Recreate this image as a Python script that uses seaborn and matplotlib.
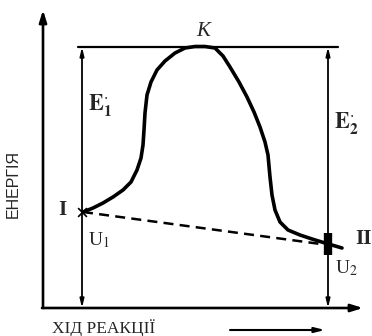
import matplotlib
matplotlib.use("Agg")
import matplotlib.pyplot as plt
import seaborn as sns
import pandas as pd

# ---- data (progress along reaction, energy) ----
curve_progress = [40, 50, 60, 70, 80, 88, 94, 98, 100, 101, 102, 104, 108, 114, 122, 132, 142,
                  152, 162, 172, 180, 187, 196, 204, 211, 217, 222, 225, 227, 229, 232, 237, 245,
                  257, 269, 282, 299]
curve_energy = [96, 100, 105, 111, 118, 126, 138, 150, 163, 178, 195, 213, 226, 238, 247, 255, 260,
                261.5, 261.5, 260, 252, 241, 226, 211, 196, 181, 166, 153, 131, 113, 98, 86, 78,
                73, 69, 65, 60]
direct_progress = [40, 285]
direct_energy = [96, 63]
state_progress = [39, 285]          # I and II
peak_energy = 261
top_line_progress = [35, 295]
labels_state = ["I", "II"]
labels_U = ["U$_1$", "U$_2$"]

sns.set_style("white")
plt.rcParams["mathtext.fontset"] = "stix"

fig = plt.figure(figsize=(3.72, 3.36), dpi=100)
ax = fig.add_axes([0, 0, 1, 1])
ax.set_xlim(-43, 329)
ax.set_ylim(-28, 308)
ax.axis("off")

df_curve = pd.DataFrame({"p": curve_progress, "e": curve_energy})
sns.lineplot(data=df_curve, x="p", y="e", sort=False, color="black", lw=2.6, ax=ax,
             solid_capstyle="round")
df_direct = pd.DataFrame({"p": direct_progress, "e": direct_energy})
sns.lineplot(data=df_direct, x="p", y="e", sort=False, color="black", lw=1.8, ax=ax,
             linestyle=(0, (4, 2.5)))

# top horizontal line at activated complex level
ax.plot(top_line_progress, [peak_energy, peak_energy], color="black", lw=1.6)

# axes with arrows
ax.annotate("", xy=(0, 298), xytext=(0, 0),
            arrowprops=dict(arrowstyle="-|>,head_length=0.7,head_width=0.22", color="black", lw=1.9,
                            shrinkA=0, shrinkB=0))
ax.annotate("", xy=(320, 0), xytext=(-1, 0),
            arrowprops=dict(arrowstyle="-|>,head_length=0.7,head_width=0.22", color="black", lw=1.9,
                            shrinkA=0, shrinkB=0))
# vertical double arrows (activation energies)
for xp in state_progress:
    ax.annotate("", xy=(xp, peak_energy), xytext=(xp, 0),
                arrowprops=dict(arrowstyle="<|-|>,head_length=0.5,head_width=0.12", color="black",
                                lw=1.3, shrinkA=0, shrinkB=0))

# markers at states
ax.plot([285, 285], [53, 75], color="black", lw=6, solid_capstyle="butt")
ax.scatter([39], [96], marker="x", s=40, color="black", lw=1.2, zorder=5)

# bottom arrow under x-label
ax.annotate("", xy=(282, -22), xytext=(187, -22),
            arrowprops=dict(arrowstyle="-|>,head_length=0.6,head_width=0.15", color="black", lw=1.5,
                            shrinkA=0, shrinkB=0))

serif = "Liberation Serif"
ax.text(-30, 124, "ЕНЕРГІЯ", rotation=90, ha="center", va="center", fontsize=11.5,
        family="Liberation Sans")
ax.text(9, -20, "ХІД РЕАКЦІЇ", ha="left", va="center", fontsize=12.5, family=serif)
ax.text(160, 276, "K", ha="center", va="center", fontsize=15, family=serif, style="italic")
ax.text(45, 203, r"$\mathbf{E}^{\cdot}_{\mathbf{1}}$", ha="left", va="center", fontsize=16)
ax.text(291, 185, r"$\mathbf{E}^{\cdot}_{\mathbf{2}}$", ha="left", va="center", fontsize=16)
ax.text(19, 98, labels_state[0], ha="center", va="center", fontsize=15, family=serif, weight="bold")
ax.text(312, 69, labels_state[1], ha="left", va="center", fontsize=15, family=serif, weight="bold")
ax.text(45, 68, labels_U[0], ha="left", va="center", fontsize=14, family=serif)
ax.text(292, 40, labels_U[1], ha="left", va="center", fontsize=14, family=serif)

fig.savefig("out.png", dpi=100)
